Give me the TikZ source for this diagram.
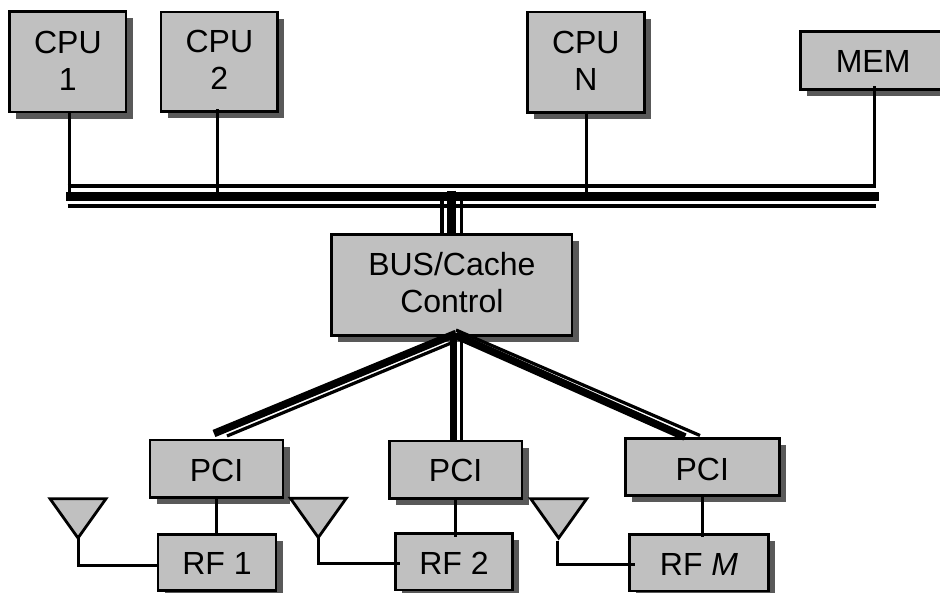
\documentclass[tikz,border=0pt]{standalone}
\usepackage{fontspec}
\setmainfont{Liberation Sans}
\usetikzlibrary{shadows,shapes.geometric}
\definecolor{boxgray}{HTML}{C0C0C0}
\definecolor{shadegray}{HTML}{595959}
\tikzset{
  x=1pt,y=-1pt,
  boxnode/.style={draw=black,line width=2.8pt,fill=boxgray,inner sep=0pt,outer sep=0pt,
    align=center,font=\fontsize{32}{37}\selectfont,text depth=0pt,
    copy shadow={draw=none,fill=shadegray,shadow xshift=6.5pt,shadow yshift=-6.5pt}},
  thinwire/.style={line width=3pt,draw=black},
  thinlink/.style={line width=3.2pt,draw=black},
  thinbus/.style={line width=4pt,draw=black},
  thickbus/.style={line width=8.8pt,draw=black},
  thicklink/.style={line width=7.6pt,draw=black},
  antennanode/.style={isosceles triangle,isosceles triangle stretches,shape border rotate=270,
    draw=black,line width=2.8pt,fill=boxgray,inner sep=0pt,outer sep=0pt,
    minimum width=56pt,minimum height=39.3pt,line join=miter,anchor=apex}
}
\begin{document}
\begin{tikzpicture}
\clip (0,0) rectangle (940,592);
% boxes
\node[boxnode,text height=56.3pt,minimum width=116.3pt,minimum height=100.3pt] (cpu1) at (67.85,61.85) {CPU\\1};
\node[boxnode,text height=56pt,minimum width=116.7pt,minimum height=99.3pt] (cpu2) at (219.35,61.65) {CPU\\2};
\node[boxnode,text height=56pt,minimum width=117pt,minimum height=100.7pt] (cpun) at (585.8,62.35) {CPU\\N};
\node[boxnode,text height=24.8pt,minimum width=145.7pt,minimum height=58pt] (mem) at (873.15,60.3) {MEM};
\node[boxnode,text height=55.4pt,minimum width=240.3pt,minimum height=100.6pt] (ctrl) at (451.85,285) {BUS/Cache\\Control};
\node[boxnode,text height=24.7pt,minimum width=133pt,minimum height=57.3pt] (pci1) at (216.5,468.65) {PCI};
\node[boxnode,text height=24pt,minimum width=132.7pt,minimum height=57.3pt] (pci2) at (455.65,469.65) {PCI};
\node[boxnode,text height=26.4pt,minimum width=154pt,minimum height=57pt] (pci3) at (702.3,466.8) {PCI};
\node[boxnode,text height=23.6pt,minimum width=118pt,minimum height=56.4pt] (rf1) at (217,562.5) {RF 1};
\node[boxnode,text height=24.9pt,minimum width=117.4pt,minimum height=56.3pt] (rf2) at (454,561.85) {RF 2};
\node[boxnode,text height=24.3pt,minimum width=138.6pt,minimum height=56.3pt] (rfm) at (699,562.85) {RF \textit{M}};
% antennas
\node[antennanode] (ant1) at (78,538) {};
\node[antennanode] (ant2) at (318.3,537.5) {};
\node[antennanode] (ant3) at (558.7,538) {};
% bus end points
\coordinate (busTopL) at (67.7,186.3);
\coordinate (busTopR) at (875.5,186.3);
\coordinate (busMidL) at (66,196.7);
\coordinate (busMidR) at (878.7,196.7);
\coordinate (busBotL) at (67.7,206.3);
\coordinate (busBotR) at (876.3,206.3);
\draw[thinbus] (busTopL) -- (busTopR);
\draw[thickbus] (busMidL) -- (busMidR);
\draw[thinbus] (busBotL) -- (busBotR);
% CPU and memory drops
\draw[thinwire] ([xshift=1.8pt]cpu1.south) -- ([xshift=1.8pt]cpu1.south |- busMidL);
\draw[thinwire] ([xshift=-2.3pt,yshift=2pt]cpu2.south) -- ([xshift=-2.3pt]cpu2.south |- busMidL);
\draw[thinwire] ([xshift=.5pt,yshift=2pt]cpun.south) -- ([xshift=.5pt]cpun.south |- busMidL);
\draw[thinwire] ([xshift=1.5pt,yshift=3pt]mem.south) -- ([xshift=1.5pt]mem.south |- busTopL);
% bus to controller
\coordinate (ctrlTopA) at (442,200);
\coordinate (ctrlTopB) at (451.7,190.7);
\coordinate (ctrlTopC) at (461.7,200);
\draw[line width=3.6pt] (ctrlTopA) -- (ctrlTopA |- ctrl.north);
\draw[line width=8.7pt] (ctrlTopB) -- (ctrlTopB |- ctrl.north);
\draw[line width=3.4pt] (ctrlTopC) -- (ctrlTopC |- ctrl.north);
% controller to PCI
\coordinate (apexL) at (456,333.5);
\coordinate (apexLThin) at (456,341);
\coordinate (apexR) at (456,335.5);
\coordinate (apexRThin) at (456,330);
\coordinate (leftThick) at (214,433.5);
\coordinate (leftThin) at (227,436);
\coordinate (rightThick) at (685,437);
\coordinate (rightThin) at (700,435.5);
\draw[thicklink] (apexL) -- (leftThick);
\draw[thinlink] (apexLThin) -- (leftThin);
\draw[line width=7.3pt] (453.6,333) -- (453.6,440);
\draw[line width=2.6pt] (461.2,336) -- (461.2,440);
\draw[thicklink] (apexR) -- (rightThick);
\draw[thinlink] (apexRThin) -- (rightThin);
% PCI to RF
\draw[thinwire] (pci1.south) -- (pci1.south |- rf1.north);
\draw[thinwire] (pci2.south) -- ([yshift=-3pt]pci2.south |- rf2.north);
\draw[thinwire] (pci3.south) -- ([yshift=-2pt]pci3.south |- rfm.north);
% antenna feeds
\draw[thinwire] (ant1.apex) |- (rf1.west |- 0,565);
\draw[thinwire] (ant2.apex) |- ([xshift=5pt]rf2.west |- 0,563.7);
\draw[thinwire] ([xshift=-1.4pt,yshift=-2.7pt]ant3.apex) |- ([xshift=5pt]rfm.west |- 0,564.7);
\end{tikzpicture}
\end{document}
